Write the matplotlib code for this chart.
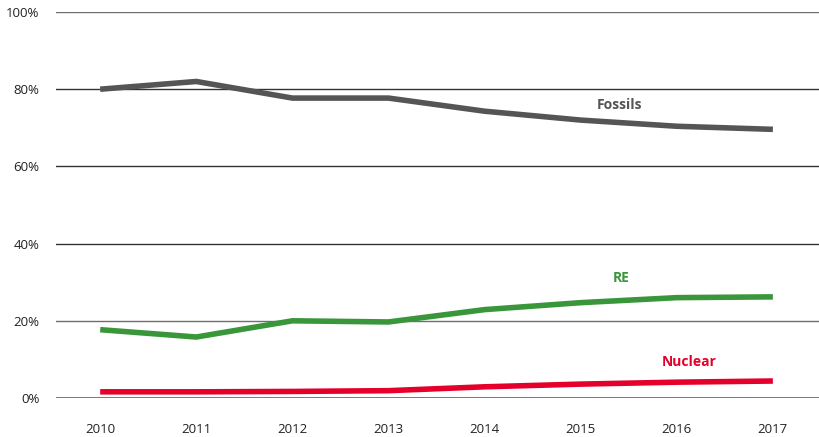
import matplotlib.pyplot as plt
import numpy as np

years = [2010, 2011, 2012, 2013, 2014, 2015, 2016, 2017]
fossils = [80.0, 82.0, 77.7, 77.7, 74.3, 72.0, 70.4, 69.6]
renewables = [17.7, 15.8, 20.0, 19.7, 22.9, 24.7, 26.0, 26.2]
nuclear = [1.6, 1.6, 1.7, 1.9, 2.9, 3.6, 4.1, 4.4]

C_FOS = "#555555"
C_RE = "#3a963a"
C_NUC = "#e4002b"

plt.rcParams["font.family"] = ["Open Sans", "DejaVu Sans"]

fig = plt.figure(figsize=(8.19, 4.37), dpi=100)
ax = fig.add_axes([56 / 819, 1 - 398 / 437, (819 - 56) / 819, (398 - 12) / 437])

for v in [20, 40, 60, 80, 100]:
    ax.axhline(v, color="#333333" if v in (40, 60, 80) else "#6e6e6e", lw=1.0, zorder=1)
ax.axhline(0, color="#6e6e6e", lw=1.3, zorder=1)

ax.plot(years, fossils, color=C_FOS, lw=4.0, solid_capstyle="butt", zorder=3)
ax.plot(years, renewables, color=C_RE, lw=4.0, solid_capstyle="butt", zorder=3)
ax.plot(years, nuclear, color=C_NUC, lw=4.0, solid_capstyle="butt", zorder=3)

ax.text(2015.4, 75.8, "Fossils", color=C_FOS, fontsize=10, fontweight="bold", ha="center", va="center")
ax.text(2015.42, 31.1, "RE", color=C_RE, fontsize=10, fontweight="bold", ha="center", va="center")
ax.text(2016.13, 9.3, "Nuclear", color=C_NUC, fontsize=10, fontweight="bold", ha="center", va="center")

ax.set_xlim(2009.54, 2017.48)
ax.set_ylim(0, 100)
ax.set_xticks(years)
ax.set_yticks([0, 20, 40, 60, 80, 100])
ax.set_yticklabels([f"{v}%" for v in [0, 20, 40, 60, 80, 100]])
ax.tick_params(axis="both", length=0, labelsize=9.5, colors="#222222")
ax.tick_params(axis="y", pad=12)
ax.tick_params(axis="x", pad=18)
for s in ax.spines.values():
    s.set_visible(False)

fig.savefig("out.png", dpi=100)
